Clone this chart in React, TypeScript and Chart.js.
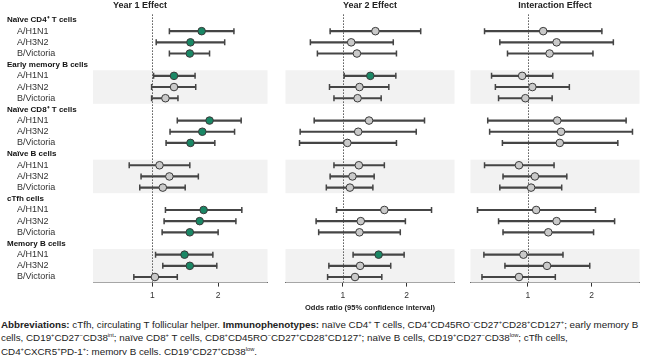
import React, { useEffect, useRef } from 'react';
import { Chart, registerables } from 'chart.js';
Chart.register(...registerables);

const FONT = '"Liberation Sans", Arial, Helvetica, sans-serif';

const GROUPS = ['Naïve CD4⁺ T cells', 'Early memory B cells', 'Naïve CD8⁺ T cells', 'Naïve B cells', 'cTfh cells', 'Memory B cells'];
const STRAINS = ['A/H1N1', 'A/H3N2', 'B/Victoria'];
const SHADED_GROUPS = [1, 3, 5];
const PANEL_TITLES = ['Year 1 Effect', 'Year 2 Effect', 'Interaction Effect'];
const X_TICKS = [1, 2];
const X_MIN = 0.1;
const X_MAX = 2.75;
const AXIS_TITLE = 'Odds ratio (95% confidence interval)';

// values ordered group by group, strains A/H1N1, A/H3N2, B/Victoria
const year1OR = [1.75, 1.58, 1.57, 1.33, 1.33, 1.2, 1.87, 1.76, 1.58, 1.11, 1.26, 1.16, 1.78, 1.72, 1.57, 1.49, 1.57, 1.04];
const year1Low = [1.26, 1.06, 1.26, 1.02, 0.99, 0.99, 1.38, 1.27, 1.21, 0.65, 0.83, 0.81, 1.2, 1.18, 1.15, 1.05, 1.16, 0.72];
const year1High = [2.24, 2.1, 1.87, 1.65, 1.66, 1.39, 2.35, 2.25, 1.95, 1.57, 1.7, 1.5, 2.36, 2.27, 2.0, 1.92, 1.98, 1.38];

const year2OR = [1.51, 1.13, 1.22, 1.43, 1.26, 1.23, 1.41, 1.24, 1.07, 1.25, 1.15, 1.11, 1.65, 1.28, 1.26, 1.56, 1.27, 1.19];
const year2Low = [0.8, 0.49, 0.6, 1.02, 0.79, 0.86, 0.55, 0.33, 0.32, 0.86, 0.8, 0.74, 0.9, 0.58, 0.62, 1.16, 0.78, 0.76];
const year2High = [2.22, 1.79, 1.84, 1.83, 1.72, 1.6, 2.28, 2.15, 1.84, 1.65, 1.49, 1.47, 2.39, 1.98, 1.9, 1.96, 1.75, 1.61];

const interOR = [1.24, 1.45, 1.34, 0.91, 1.07, 0.96, 1.46, 1.52, 1.5, 0.86, 1.11, 1.05, 1.13, 1.45, 1.32, 0.93, 1.3, 0.86];
const interLow = [0.32, 0.56, 0.68, 0.43, 0.49, 0.54, 0.37, 0.4, 0.6, 0.32, 0.61, 0.56, 0.21, 0.54, 0.61, 0.31, 0.64, 0.28];
const interHigh = [2.16, 2.34, 2.02, 1.39, 1.65, 1.38, 2.54, 2.64, 2.41, 1.41, 1.61, 1.53, 2.06, 2.36, 2.03, 1.55, 1.97, 1.43];

const PANELS = [
  { or: year1OR, lo: year1Low, hi: year1High },
  { or: year2OR, lo: year2Low, hi: year2High },
  { or: interOR, lo: interLow, hi: interHigh },
];

const ROW_LABELS: string[] = [];
const ROW_IS_HEADER: boolean[] = [];
const ROW_DATA_INDEX: (number | null)[] = [];
GROUPS.forEach((g, gi) => {
  ROW_LABELS.push(g);
  ROW_IS_HEADER.push(true);
  ROW_DATA_INDEX.push(null);
  STRAINS.forEach((s, si) => {
    ROW_LABELS.push('    ' + s);
    ROW_IS_HEADER.push(false);
    ROW_DATA_INDEX.push(gi * 3 + si);
  });
});

const GREEN = '#1a8765';
const GRAY = '#c9c9c9';
const LINE = '#454545';

const CANVAS_H = 315;
const PLOT_BOTTOM = 282.6;

const layoutSpec = [
  { left: 0, width: 273, padLeft: 7, yWidth: 86 },
  { left: 280, width: 180, padLeft: 0, yWidth: 0 },
  { left: 465, width: 180, padLeft: 0, yWidth: 0 },
];

const bandsPlugin = {
  id: 'bands',
  beforeDatasetsDraw(chart: any) {
    const { ctx, chartArea } = chart;
    const y = chart.scales.y;
    const x = chart.scales.x;
    const step = y.getPixelForValue(1) - y.getPixelForValue(0);
    ctx.save();
    ctx.fillStyle = '#f2f2f2';
    SHADED_GROUPS.forEach((g) => {
      const top = y.getPixelForValue(g * 4 + 1) - step / 2;
      const bottom = y.getPixelForValue(g * 4 + 3) + step / 2;
      ctx.fillRect(chartArea.left, top, chartArea.right - chartArea.left, bottom - top);
    });
    const x1 = Math.round(x.getPixelForValue(1)) + 0.5;
    ctx.strokeStyle = '#555';
    ctx.lineWidth = 1;
    ctx.setLineDash([1.5, 1.5]);
    ctx.beginPath();
    ctx.moveTo(x1, chartArea.top);
    ctx.lineTo(x1, chartArea.bottom);
    ctx.stroke();
    ctx.restore();
  },
};

function makeConfig(p: number): any {
  const d = PANELS[p];
  const val = (arr: number[]) => ROW_DATA_INDEX.map((k) => (k === null ? null : arr[k]));
  const bars = ROW_DATA_INDEX.map((k) => (k === null ? null : [d.lo[k], d.hi[k]]));
  const colors = ROW_DATA_INDEX.map((k) => (k === null ? GRAY : d.lo[k] > 1 || d.hi[k] < 1 ? GREEN : GRAY));
  const spec = layoutSpec[p];
  return {
    type: 'bar',
    data: {
      labels: ROW_LABELS,
      datasets: [
        {
          type: 'line', indexAxis: 'y', data: val(d.or), showLine: false,
          pointRadius: 3.8, pointHoverRadius: 3.8, pointBackgroundColor: colors,
          pointBorderColor: '#3a3a3a', pointBorderWidth: 1, order: 0,
        },
        {
          type: 'line', indexAxis: 'y', data: val(d.lo), showLine: false,
          pointStyle: 'line', rotation: 90, pointRadius: 3, pointBorderColor: LINE,
          pointBorderWidth: 1.5, order: 1,
        },
        {
          type: 'line', indexAxis: 'y', data: val(d.hi), showLine: false,
          pointStyle: 'line', rotation: 90, pointRadius: 3, pointBorderColor: LINE,
          pointBorderWidth: 1.5, order: 1,
        },
        {
          type: 'bar', indexAxis: 'y', data: bars, backgroundColor: LINE,
          barThickness: 1.5, order: 2,
        },
      ],
    },
    options: {
      indexAxis: 'y',
      responsive: false,
      animation: false,
      layout: { padding: { left: spec.padLeft, right: 0, top: 0, bottom: 0 } },
      plugins: {
        legend: { display: false },
        tooltip: { enabled: false },
        title: {
          display: true, text: PANEL_TITLES[p], color: '#222',
          font: { family: FONT, size: 9, weight: 'bold' },
          padding: { top: 0, bottom: 3.6 },
        },
      },
      scales: {
        x: {
          type: 'linear', position: 'bottom', min: X_MIN, max: X_MAX,
          afterBuildTicks: (s: any) => { s.ticks = X_TICKS.map((v) => ({ value: v })); },
          afterFit: (s: any) => { s.height = CANVAS_H - PLOT_BOTTOM; },
          grid: { display: true, drawOnChartArea: false, drawTicks: true, tickLength: 4, color: '#333', tickColor: '#333' },
          border: { display: true, color: '#333', width: 1 },
          ticks: { color: '#333', font: { family: FONT, size: 8.5 }, padding: 3.5 },
          title: {
            display: true, text: AXIS_TITLE, color: p === 1 ? '#222' : 'rgba(0,0,0,0)',
            font: { family: FONT, size: 7.5, weight: 'bold' }, padding: { top: 0, bottom: 3 },
          },
        },
        y: {
          type: 'category', position: 'left', offset: true, display: p === 0,
          grid: { display: false }, border: { display: false },
          afterFit: (s: any) => { s.width = spec.yWidth; },
          ticks: {
            autoSkip: false, crossAlign: 'far', padding: 0,
            font: (ctx: any) => ({ family: FONT, size: ROW_IS_HEADER[ctx.index] ? 8 : 9, weight: ROW_IS_HEADER[ctx.index] ? 'bold' : 'normal' }),
            color: (ctx: any) => (ROW_IS_HEADER[ctx.index] ? '#111' : '#333'),
          },
        },
      },
    },
    plugins: [bandsPlugin],
  };
}

const sup = (s: string) => (
  <sup style={{ fontSize: '58%', verticalAlign: 'super', lineHeight: 0 }}>{s}</sup>
);

export default function App() {
  const r0 = useRef<HTMLCanvasElement>(null);
  const r1 = useRef<HTMLCanvasElement>(null);
  const r2 = useRef<HTMLCanvasElement>(null);
  useEffect(() => {
    const refs = [r0, r1, r2];
    const charts = refs.map((r, p) => new Chart(r.current as HTMLCanvasElement, makeConfig(p)));
    return () => charts.forEach((c) => c.destroy());
  }, []);
  const refs = [r0, r1, r2];
  const lineStyle: React.CSSProperties = { whiteSpace: 'nowrap', height: 13.5, lineHeight: '13.5px' };
  return (
    <div style={{ position: 'absolute', left: 0, top: 0, width: 650, height: 355, background: '#fff', overflow: 'hidden' }}>
      {layoutSpec.map((s, i) => (
        <canvas key={i} ref={refs[i]} width={s.width} height={CANVAS_H}
          style={{ position: 'absolute', left: s.left, top: 0, width: s.width, height: CANVAS_H }} />
      ))}
      <div style={{ position: 'absolute', left: 1, top: 317.5, fontFamily: FONT, fontSize: 9.8, color: '#222' }}>
        <div style={lineStyle}>
          <b>Abbreviations:</b> cTfh, circulating T follicular helper. <b>Immunophenotypes:</b> naïve CD4{sup('+')} T cells, CD4{sup('+')}CD45RO{sup('−')}CD27{sup('+')}CD28{sup('+')}CD127{sup('+')}; early memory B
        </div>
        <div style={lineStyle}>
          cells, CD19{sup('+')}CD27{sup('−')}CD38{sup('int')}; naïve CD8{sup('+')} T cells, CD8{sup('+')}CD45RO{sup('−')}CD27{sup('+')}CD28{sup('+')}CD127{sup('+')}; naïve B cells, CD19{sup('+')}CD27{sup('−')}CD38{sup('low')}; cTfh cells,
        </div>
        <div style={lineStyle}>
          CD4{sup('+')}CXCR5{sup('+')}PD-1{sup('+')}; memory B cells, CD19{sup('+')}CD27{sup('+')}CD38{sup('low')}.
        </div>
      </div>
    </div>
  );
}
